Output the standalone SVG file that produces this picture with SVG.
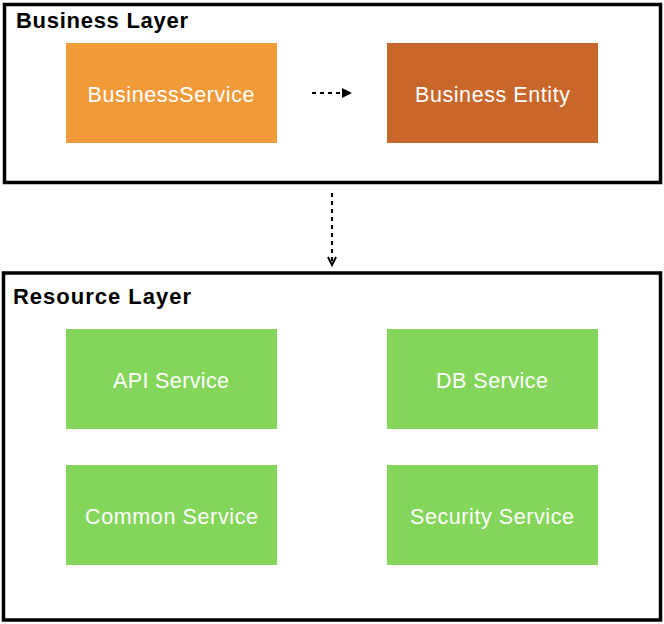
<svg xmlns="http://www.w3.org/2000/svg" width="664" height="624" viewBox="0 0 664 624">
<style>
.layer{fill:#fff;stroke:#000;stroke-width:3.5}
.title{font-family:"Liberation Sans",Arial,sans-serif;font-weight:bold;font-size:22px;fill:#000}
.lbl{font-family:"Liberation Sans",Arial,sans-serif;font-size:21.5px;fill:#fff;text-anchor:middle}
.green{fill:#84D65A}
.conn{stroke:#000;stroke-width:2;stroke-dasharray:4 4;fill:none}
</style>
<defs>
<marker id="tri" markerWidth="10" markerHeight="10" refX="10" refY="5" orient="auto" markerUnits="userSpaceOnUse">
<path d="M0,0 L10,5 L0,10 Z" fill="#000"/>
</marker>
<marker id="vee" markerWidth="12" markerHeight="10" refX="10" refY="5" orient="auto" markerUnits="userSpaceOnUse">
<path d="M2,1 L10,5 L2,9" fill="none" stroke="#000" stroke-width="2"/>
</marker>
</defs>
<g id="business-layer">
<rect class="layer" x="4.5" y="4.5" width="656" height="178"/>
<text class="title" x="16" y="28" textLength="172" lengthAdjust="spacing">Business Layer</text>
</g>
<g id="resource-layer">
<rect class="layer" x="3.5" y="273" width="657" height="347"/>
<text class="title" x="13" y="304" textLength="178" lengthAdjust="spacing">Resource Layer</text>
</g>
<g id="business-service">
<rect x="66" y="43" width="211" height="100" fill="#F19A3A"/>
<text class="lbl" x="171" y="101.5" textLength="167" lengthAdjust="spacing">BusinessService</text>
</g>
<g id="business-entity">
<rect x="387" y="43" width="211" height="100" fill="#C9662A"/>
<text class="lbl" x="492.5" y="101.5" textLength="155" lengthAdjust="spacing">Business Entity</text>
</g>
<g id="api-service">
<rect class="green" x="66" y="329" width="211" height="100"/>
<text class="lbl" x="171" y="387.5" textLength="116" lengthAdjust="spacing">API Service</text>
</g>
<g id="db-service">
<rect class="green" x="387" y="329" width="211" height="100"/>
<text class="lbl" x="492" y="387.5" textLength="112" lengthAdjust="spacing">DB Service</text>
</g>
<g id="common-service">
<rect class="green" x="66" y="465" width="211" height="100"/>
<text class="lbl" x="171.5" y="523.5" textLength="173" lengthAdjust="spacing">Common Service</text>
</g>
<g id="security-service">
<rect class="green" x="387" y="465" width="211" height="100"/>
<text class="lbl" x="492" y="523.5" textLength="164" lengthAdjust="spacing">Security Service</text>
</g>
<g id="connectors">
<line class="conn" x1="312" y1="93" x2="352" y2="93" marker-end="url(#tri)"/>
<line class="conn" x1="332" y1="193" x2="332" y2="265" marker-end="url(#vee)"/>
</g>
</svg>
